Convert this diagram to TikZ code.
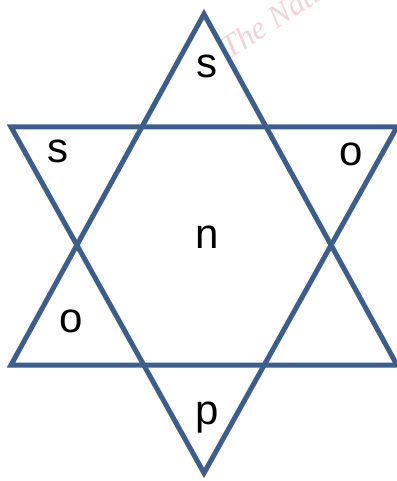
\documentclass[tikz,border=0pt]{standalone}
\usepackage{fontspec}
\setmainfont{Liberation Sans}
\newfontfamily\markfont{Liberation Serif}
\definecolor{starblue}{HTML}{3D5E8B}
\definecolor{markpink}{HTML}{F1D3D7}
\tikzset{
  side/.style={draw=starblue, line width=5pt, line join=miter},
  letter/.style={font=\fontsize{42}{42}\selectfont, anchor=base, inner sep=0pt},
}
\begin{document}
\begin{tikzpicture}[x=1pt,y=-1pt]
  \useasboundingbox (0,0) rectangle (396,481);
  % Marca de agua
  \node[markpink, font=\markfont\itshape\fontsize{32}{32}\selectfont,
    rotate=33, anchor=base west, inner sep=0pt] (mark) at (229,60) {The Nation};
  % Triangulo hacia arriba
  \coordinate (upTop) at (204,14);
  \coordinate (upLeft) at (11,365);
  \coordinate (upRight) at (397,365);
  \draw[side] (upTop) -- (upLeft) -- (upRight) -- cycle;
  % Triangulo hacia abajo
  \coordinate (dnLeft) at (11,127);
  \coordinate (dnRight) at (397,127);
  \coordinate (dnBot) at (204,473);
  \draw[side] (dnLeft) -- (dnRight) -- (dnBot) -- cycle;
  % Letras
  \node[letter] (sTop) at (207,78) {s};
  \node[letter] (sLeft) at (58,162) {s};
  \node[letter] (oRight) at (351,165) {o};
  \node[letter] (nMid) at (207,248) {n};
  \node[letter] (oLeft) at (71.5,332) {o};
  \node[letter] (pBot) at (207,424) {p};
\end{tikzpicture}
\end{document}
